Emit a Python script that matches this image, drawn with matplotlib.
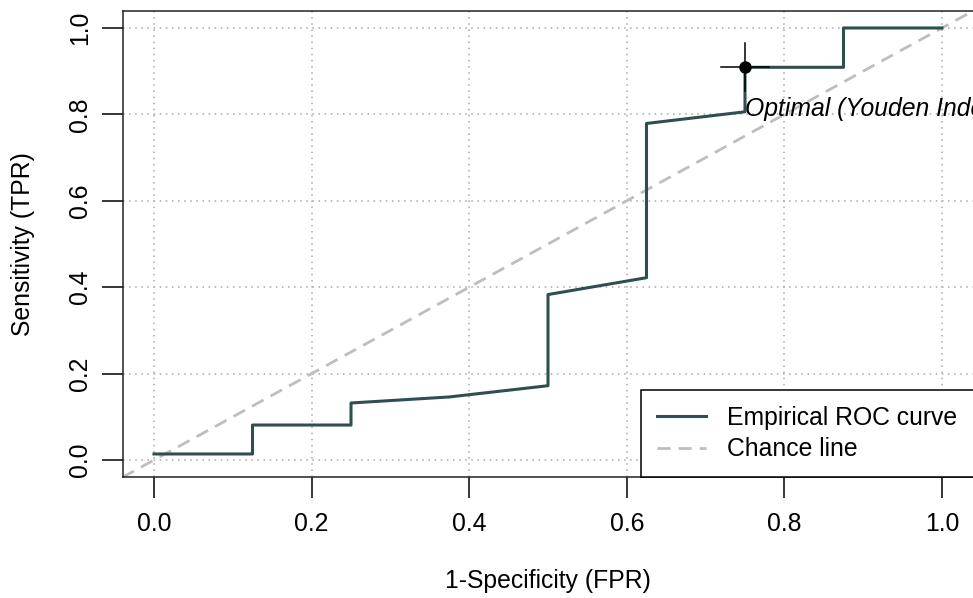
import numpy as np
import matplotlib
matplotlib.use("Agg")
import matplotlib.pyplot as plt

# ROC curve values
fpr = [0.0, 0.125, 0.125, 0.25, 0.25, 0.375, 0.5, 0.5, 0.625, 0.625, 0.75, 0.75, 0.875, 0.875, 1.0]
tpr = [0.014, 0.014, 0.081, 0.081, 0.132, 0.146, 0.172, 0.383, 0.422, 0.779, 0.806, 0.909, 0.909, 1.0, 1.0]

# optimal cut-off (Youden) and its cross bars
opt_x = 0.75
opt_y = 0.909
opt_dx = 0.031
opt_dy = 0.056
opt_label = "Optimal (Youden Index)"

ticks = [0.0, 0.2, 0.4, 0.6, 0.8, 1.0]
tick_labels = ["0.0", "0.2", "0.4", "0.6", "0.8", "1.0"]

plt.rcParams['font.family'] = ['Liberation Sans', 'DejaVu Sans']
FS = 17.8

W, H = 973, 598
fig = plt.figure(figsize=(W / 100, H / 100), dpi=100)
left, right, top, bottom = 122.5, 973.5, 10.7, 477.3
ax = fig.add_axes([left / W, 1 - bottom / H, (right - left) / W, (bottom - top) / H])
ax.set_xlim(-0.04, 1.04)
ax.set_ylim(-0.04, 1.04)

# grid
for t in ticks:
    ax.axvline(t, color='#a8a8a8', lw=1.1, ls=(0, (1, 3)), zorder=1)
    ax.axhline(t, color='#a8a8a8', lw=1.1, ls=(0, (1, 3)), zorder=1)

# chance line
chance = ax.axline((0, 0), slope=1, color='#bebebe', lw=2.0, ls=(0, (4.7, 2.9)), zorder=2)

# ROC curve
roc_line, = ax.plot(fpr, tpr, color='#2f4f4f', lw=2.2, zorder=3)

# optimal point
ax.plot([opt_x - opt_dx, opt_x + opt_dx], [opt_y, opt_y], color='black', lw=1.1, zorder=4)
ax.plot([opt_x, opt_x], [opt_y - opt_dy, opt_y + opt_dy], color='black', lw=1.1, zorder=4)
ax.plot([opt_x], [opt_y], 'o', color='black', ms=8, zorder=5)
ax.text(opt_x, 0.797, opt_label, fontsize=FS, style='italic', ha='left', va='baseline',
        zorder=5)

ax.set_xticks(ticks)
ax.set_xticklabels(tick_labels)
ax.set_yticks(ticks)
ax.set_yticklabels(tick_labels, rotation=90, va='center')
ax.tick_params(direction='out', length=15, width=1.1, labelsize=FS)
ax.tick_params(axis='x', pad=10)
ax.tick_params(axis='y', pad=7)
ax.set_xlabel("1-Specificity (FPR)", fontsize=FS, labelpad=24)
ax.set_ylabel("Sensitivity (TPR)", fontsize=FS, labelpad=24)
for s in ax.spines.values():
    s.set_linewidth(1.1)
    s.set_color('#222222')

leg = ax.legend(handles=[roc_line, chance],
                labels=['Empirical ROC curve', 'Chance line'],
                loc='lower right', borderaxespad=0, fontsize=FS, frameon=True,
                fancybox=False, edgecolor='black', framealpha=1,
                handlelength=2.0, handletextpad=0.85, borderpad=0.65, labelspacing=0.3)
leg.get_frame().set_linewidth(1.1)
leg.set_zorder(6)

fig.savefig("out.png", dpi=100)
